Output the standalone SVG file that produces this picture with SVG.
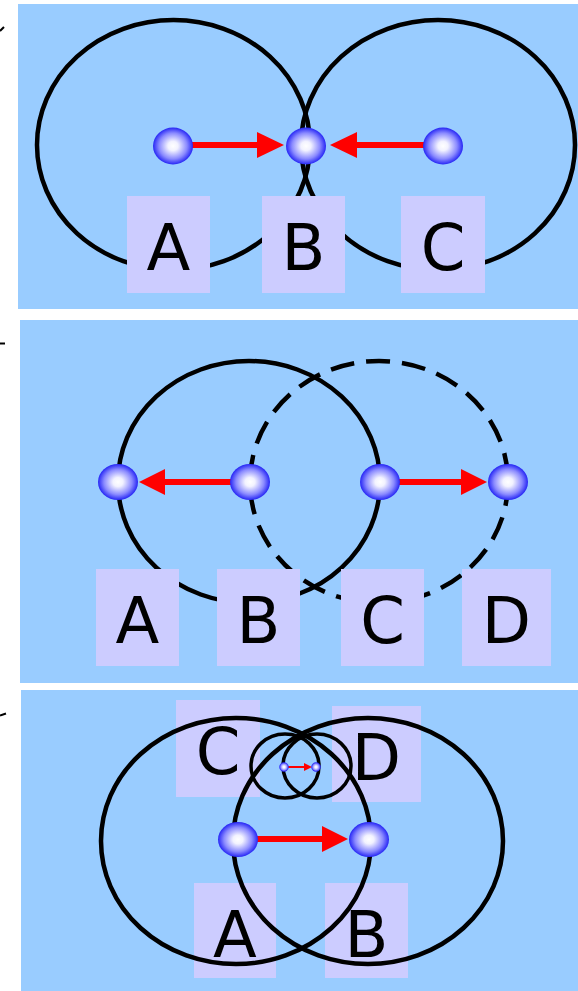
<svg xmlns="http://www.w3.org/2000/svg" width="578" height="991" viewBox="0 0 578 991">
<style>
.bg{fill:#99ccff}
.box{fill:#ccccff}
.lbl{font-family:"DejaVu Sans",sans-serif;font-size:64px;fill:#000;text-anchor:middle}
.ring{fill:none;stroke:#000;stroke-width:4.5}
.dash{stroke-dasharray:24 12}
.thin{fill:none;stroke:#000;stroke-width:3.5}
.arr{stroke:#ff0000;stroke-width:6;fill:none}
.head{fill:#ff0000}
.ball{fill:url(#sph)}
.tick{stroke:#000;stroke-width:2}
</style>
<defs>
<radialGradient id="sph" cx="0.5" cy="0.5" r="0.5">
<stop offset="0" stop-color="#ffffff"/>
<stop offset="0.25" stop-color="#f2f2ff"/>
<stop offset="0.7" stop-color="#8a8aff"/>
<stop offset="1" stop-color="#2626f5"/>
</radialGradient>
</defs>
<line class="tick" x1="0" y1="31" x2="4" y2="27"/>
<line class="tick" x1="0" y1="343.5" x2="5" y2="343.5"/>
<line class="tick" x1="0" y1="715.5" x2="6" y2="713.5"/>
<rect class="bg" x="18" y="4" width="560" height="305"/>
<rect class="bg" x="20" y="320" width="558" height="363"/>
<rect class="bg" x="21" y="690" width="557" height="301"/>
<g id="panel1-rings">
<ellipse class="ring" cx="173.5" cy="145" rx="136.5" ry="125"/>
<ellipse class="ring" cx="438" cy="145" rx="137" ry="125"/>
</g>
<g id="p1-A"><rect class="box" x="127" y="196" width="83" height="97"/><text class="lbl" x="168.5" y="270">A</text></g>
<g id="p1-B"><rect class="box" x="262" y="196" width="83" height="97"/><text class="lbl" x="303.5" y="270">B</text></g>
<g id="p1-C"><rect class="box" x="401" y="196" width="84" height="97"/><text class="lbl" x="443" y="270">C</text></g>
<g id="panel2-rings">
<ellipse class="ring" cx="249" cy="482" rx="131" ry="121"/>
<ellipse class="ring dash" cx="379" cy="482" rx="129" ry="121"/>
</g>
<g id="p2-A"><rect class="box" x="96" y="569" width="83" height="97"/><text class="lbl" x="137.5" y="643">A</text></g>
<g id="p2-B"><rect class="box" x="217" y="569" width="83" height="97"/><text class="lbl" x="258.5" y="643">B</text></g>
<g id="p2-C"><rect class="box" x="341" y="569" width="83" height="97"/><text class="lbl" x="382.5" y="643">C</text></g>
<g id="p2-D"><rect class="box" x="462" y="569" width="89" height="97"/><text class="lbl" x="506.5" y="643">D</text></g>
<g id="p3-C"><rect class="box" x="176" y="700" width="84" height="97"/><text class="lbl" x="218" y="774">C</text></g>
<g id="p3-D"><rect class="box" x="332" y="706" width="89" height="96"/><text class="lbl" x="376.5" y="780">D</text></g>
<g id="p3-A"><rect class="box" x="194" y="883" width="82" height="95"/><text class="lbl" x="235" y="957">A</text></g>
<g id="p3-B"><rect class="box" x="325" y="883" width="83" height="95"/><text class="lbl" x="366.5" y="957">B</text></g>
<g id="panel3-rings">
<ellipse class="ring" cx="236" cy="841" rx="135" ry="123"/>
<ellipse class="ring" cx="368" cy="841" rx="135" ry="123"/>
<ellipse class="thin" cx="285" cy="766" rx="34" ry="32"/>
<ellipse class="thin" cx="317" cy="766" rx="34" ry="32"/>
</g>
<g id="connectors">
<line class="arr" x1="190" y1="145" x2="258" y2="145"/>
<polygon class="head" points="257,132 284,145 257,158"/>
<line class="arr" x1="425" y1="145" x2="356" y2="145"/>
<polygon class="head" points="357,132 330,145 357,158"/>
<line class="arr" x1="232" y1="482" x2="164" y2="482"/>
<polygon class="head" points="165,469 139,482 165,495"/>
<line class="arr" x1="398" y1="482" x2="462" y2="482"/>
<polygon class="head" points="461,469 487,482 461,495"/>
<line class="arr" x1="256" y1="839" x2="323" y2="839"/>
<polygon class="head" points="322,826 348,839 322,852"/>
<line class="arr" style="stroke-width:2" x1="288" y1="767" x2="305" y2="767"/>
<polygon class="head" points="304,763 312,767 304,771"/>
</g>
<g id="spheres">
<ellipse class="ball" cx="173" cy="146" rx="20" ry="18.5"/>
<ellipse class="ball" cx="306" cy="146" rx="20" ry="18.5"/>
<ellipse class="ball" cx="443" cy="146" rx="20" ry="18.5"/>
<ellipse class="ball" cx="118" cy="482" rx="20" ry="18"/>
<ellipse class="ball" cx="250" cy="482" rx="20" ry="18"/>
<ellipse class="ball" cx="380" cy="482" rx="20" ry="18"/>
<ellipse class="ball" cx="508" cy="482" rx="20" ry="18"/>
<ellipse class="ball" cx="238" cy="839.5" rx="20" ry="17.5"/>
<ellipse class="ball" cx="369" cy="839.5" rx="20" ry="17.5"/>
<ellipse class="ball" style="stroke:#3030ff;stroke-width:0.5" cx="284" cy="767" rx="4.5" ry="4.5"/>
<ellipse class="ball" style="stroke:#3030ff;stroke-width:0.5" cx="316" cy="767" rx="4.5" ry="4.5"/>
</g>
</svg>
